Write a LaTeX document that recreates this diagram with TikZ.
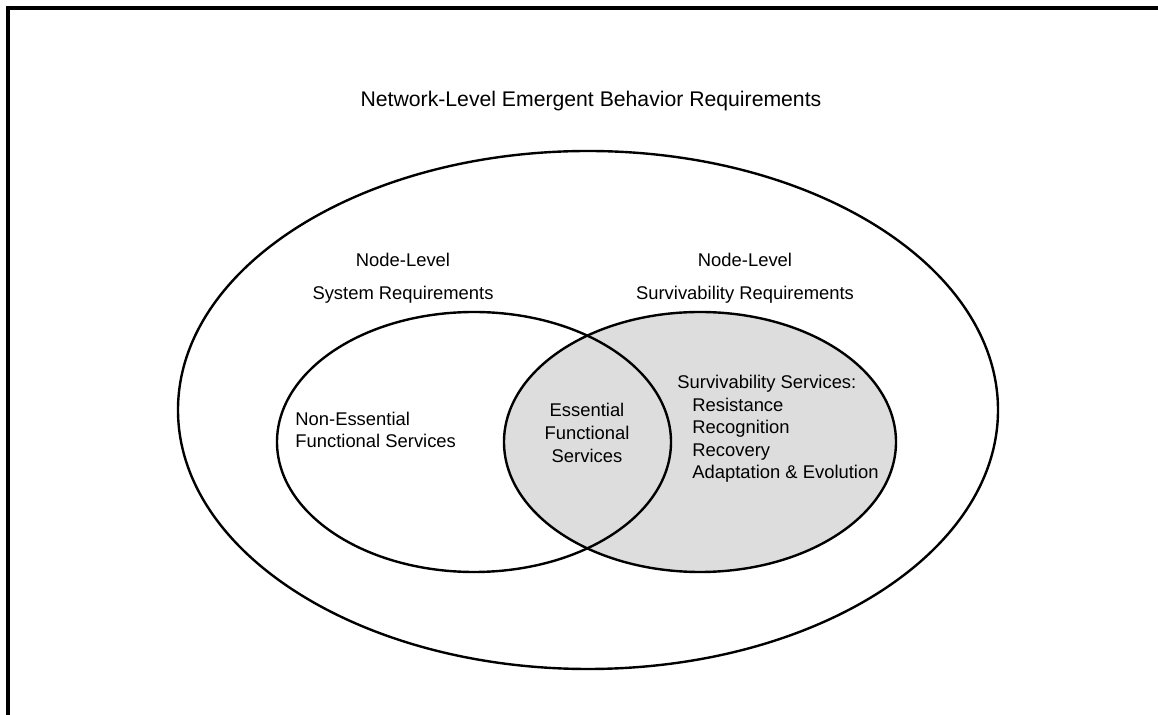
\documentclass[tikz,border=0pt]{standalone}
\usepackage{fontspec}
\setmainfont{Liberation Sans}
\usepackage{tikz}
\definecolor{shade}{RGB}{221,221,221}
\tikzset{lbl/.style={inner sep=0pt, font=\fontsize{9.2}{11.3}\selectfont}}

\begin{document}
\begin{tikzpicture}[x=0.5pt,y=-0.5pt]
    \useasboundingbox (0,0) rectangle (1158,715);
    % frame
    \draw[line width=2pt] (8,715) -- (8,8) -- (1158,8);

    % outer
    \path (588,410) coordinate (net);
    \draw[line width=1.2pt] (net) ellipse [x radius=205pt, y radius=129.5pt];
    \node[lbl, font=\fontsize{10.6}{13}\selectfont] (nettitle) at (591,101) {Network-Level Emergent Behavior Requirements};

    % right
    \path (700,442) coordinate (surv);
    \filldraw[line width=1.2pt, fill=shade] (surv) ellipse [x radius=98pt, y radius=65pt];
    % left
    \path (474,442) coordinate (sys);
    \draw[line width=1.2pt] (sys) ellipse [x radius=98.5pt, y radius=65pt];

    \node[lbl, align=center] (systitle) at (403,278) {Node-Level\\[5pt]System Requirements};
    \node[lbl, align=center] (survtitle) at (745,278) {Node-Level\\[5pt]Survivability Requirements};
    \node[lbl, align=left, anchor=west] (nonessential) at (295,430) {Non-Essential\\Functional Services};
    \node[lbl, align=center] (essential) at (587,433) {Essential\\Functional\\Services};
    \node[lbl, align=left, anchor=west] (survservices) at (677,429)
        {Survivability Services:\\
         \hspace*{7.5pt}Resistance\\
         \hspace*{7.5pt}Recognition\\
         \hspace*{7.5pt}Recovery\\
         \hspace*{7.5pt}Adaptation \& Evolution};
\end{tikzpicture}
\end{document}
